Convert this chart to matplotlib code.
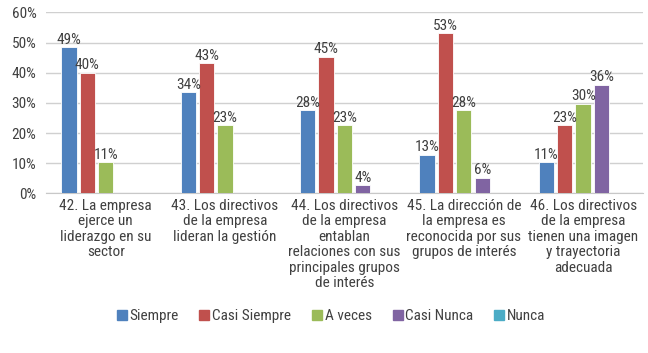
import numpy as np
import matplotlib.pyplot as plt
from matplotlib.lines import Line2D

plt.rcParams['font.family'] = ['Roboto Condensed', 'Liberation Sans Narrow', 'Roboto', 'DejaVu Sans']

# datos (fraccion)
categorias = ['42. La empresa\nejerce un\nliderazgo en su\nsector',
              '43. Los directivos\nde la empresa\nlideran la gestión',
              '44. Los directivos\nde la empresa\nentablan\nrelaciones con sus\nprincipales grupos\nde interés',
              '45. La dirección de\nla empresa es\nreconocida por sus\ngrupos de interés',
              '46. Los directivos\nde la empresa\ntienen una imagen\ny trayectoria\nadecuada']
series = ['Siempre', 'Casi Siempre', 'A veces', 'Casi Nunca', 'Nunca']
siempre = [0.485, 0.336, 0.276, 0.129, 0.103]
casi_siempre = [0.400, 0.431, 0.453, 0.530, 0.226]
a_veces = [0.104, 0.226, 0.226, 0.276, 0.298]
casi_nunca = [0.0, 0.0, 0.028, 0.052, 0.360]
nunca = [0.0, 0.0, 0.0, 0.0, 0.0]
etiquetas = [['49%', '40%', '11%', '', ''],
             ['34%', '43%', '23%', '', ''],
             ['28%', '45%', '23%', '4%', ''],
             ['13%', '53%', '28%', '6%', ''],
             ['11%', '23%', '30%', '36%', '']]
colores = ['#4f81bd', '#c0504d', '#9bbb59', '#8064a2', '#4bacc6']

valores = [siempre, casi_siempre, a_veces, casi_nunca, nunca]

fig = plt.figure(figsize=(6.48, 3.53), dpi=100)
ax = fig.add_axes([0.071, 0.452, 0.921, 0.513])

x = np.arange(len(categorias))
paso = 0.154
ancho = 0.128
for i, (nombre, vals, col) in enumerate(zip(series, valores, colores)):
    pos = x + (i - 2) * paso
    ax.bar(pos, vals, width=ancho, color=col, edgecolor='white', linewidth=0.6, zorder=3)
    for j, v in enumerate(vals):
        if etiquetas[j][i]:
            ax.text(pos[j], v + 0.001, etiquetas[j][i], ha='center', va='bottom',
                    fontsize=11, color='#404040', zorder=4)

ax.set_xlim(-0.5, len(categorias) - 0.5)
ax.set_ylim(0, 0.6)
ax.set_yticks(np.arange(0, 0.61, 0.1))
ax.set_yticklabels([f'{int(round(t * 100))}%' for t in np.arange(0, 0.61, 0.1)])
ax.grid(axis='y', color='#d0d0d0', lw=1, zorder=0)
for s in ['top', 'right', 'left']:
    ax.spines[s].set_visible(False)
ax.spines['bottom'].set_color('#c8c8c8')
ax.tick_params(axis='y', length=0, labelsize=11, labelcolor='#404040', pad=7)
ax.set_xticks(x)
ax.set_xticklabels(categorias, fontsize=11, color='#404040', linespacing=1.13)
ax.tick_params(axis='x', length=0, pad=4)

handles = [Line2D([], [], marker='s', ls='', color=c, markersize=6.5) for c in colores]
fig.legend(handles, series, loc='center', bbox_to_anchor=(0.51, 0.105), ncol=5,
           frameon=False, fontsize=11, handletextpad=0.1, columnspacing=1.3,
           handlelength=0.8, labelcolor='#404040')

fig.savefig('out.png', dpi=100)
